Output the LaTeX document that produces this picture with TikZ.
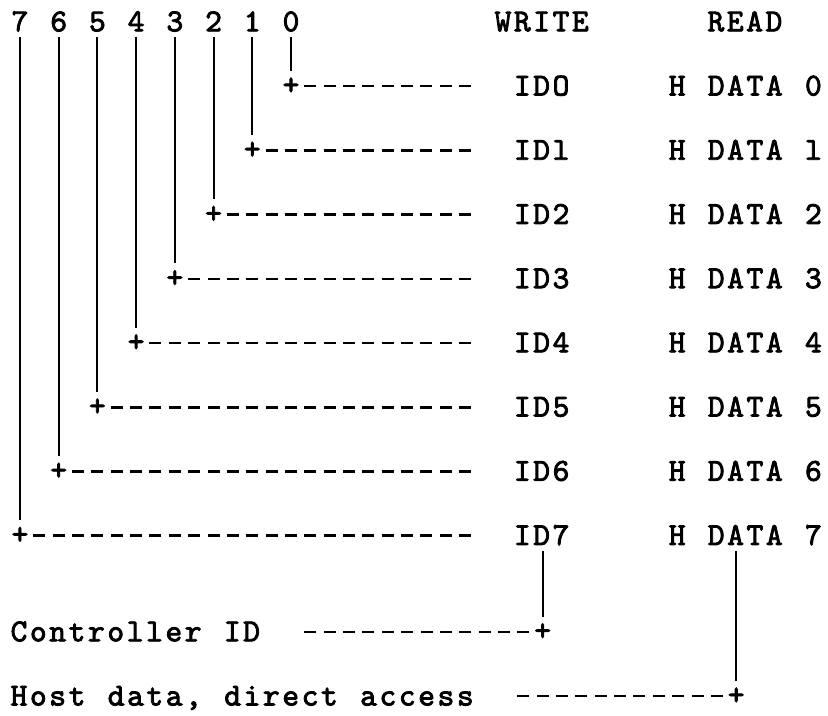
\documentclass[tikz,border=0pt]{standalone}
\usepackage{fontspec}
\newfontfamily\typewriter[FakeBold=2.5]{lmmono10-regular.otf}
\newfontfamily\typewriterwide[FakeBold=2.5, LetterSpace=8.0, WordSpace=1.152]{lmmono10-regular.otf}
\usepackage{tikz}

\begin{document}
\begin{tikzpicture}[x=14.52pt, y=-24.08pt,
    lbl/.style={font=\typewriter\fontsize{24}{29}\selectfont, inner sep=0pt, anchor=base},
    txt/.style={font=\typewriterwide\fontsize{24}{29}\selectfont, inner sep=0pt, anchor=base west},
    corner/.style={lbl, anchor=center},
    wire/.style={line width=1.4pt, shorten <=4pt, shorten >=5pt},
    dashwire/.style={line width=1.9pt, dash pattern=on 9pt off 5.52pt,
        shorten <=10pt, shorten >=30.5pt}]

    \useasboundingbox (-1.033,-0.685) rectangle (41.74,21.59);

    % ============================================================
    % BIT NUMBERS AND HEADINGS
    % ============================================================
    \node[lbl] (b7) at (0,0.29) {7};
    \node[lbl] (b6) at (2,0.29) {6};
    \node[lbl] (b5) at (4,0.29) {5};
    \node[lbl] (b4) at (6,0.29) {4};
    \node[lbl] (b3) at (8,0.29) {3};
    \node[lbl] (b2) at (10,0.29) {2};
    \node[lbl] (b1) at (12,0.29) {1};
    \node[lbl] (b0) at (14,0.29) {0};
    \node[txt] (write) at (24.5,0.29) {WRITE};
    \node[txt] (read) at (35.5,0.29) {READ};

    % ============================================================
    % WRITE / READ SIGNALS
    % ============================================================
    \node[txt] (id0) at (25.5,2.29) {IDO};
    \node[txt] (id1) at (25.5,4.29) {IDl};
    \node[txt] (id2) at (25.5,6.29) {ID2};
    \node[txt] (id3) at (25.5,8.29) {ID3};
    \node[txt] (id4) at (25.5,10.29) {ID4};
    \node[txt] (id5) at (25.5,12.29) {ID5};
    \node[txt] (id6) at (25.5,14.29) {ID6};
    \node[txt] (id7) at (25.5,16.29) {ID7};

    \node[txt] (hd0) at (33.5,2.29) {H DATA 0};
    \node[txt] (hd1) at (33.5,4.29) {H DATA l};
    \node[txt] (hd2) at (33.5,6.29) {H DATA 2};
    \node[txt] (hd3) at (33.5,8.29) {H DATA 3};
    \node[txt] (hd4) at (33.5,10.29) {H DATA 4};
    \node[txt] (hd5) at (33.5,12.29) {H DATA 5};
    \node[txt] (hd6) at (33.5,14.29) {H DATA 6};
    \node[txt] (hd7) at (33.5,16.29) {H DATA 7};

    % ============================================================
    % BIT LINES
    % ============================================================
    \node[corner] (c0) at (14,2) {+};
    \node[corner] (c1) at (12,4) {+};
    \node[corner] (c2) at (10,6) {+};
    \node[corner] (c3) at (8,8) {+};
    \node[corner] (c4) at (6,10) {+};
    \node[corner] (c5) at (4,12) {+};
    \node[corner] (c6) at (2,14) {+};
    \node[corner] (c7) at (0,16) {+};

    \draw[wire] (b0.south) -- (c0.north);
    \draw[wire] (b1.south) -- (c1.north);
    \draw[wire] (b2.south) -- (c2.north);
    \draw[wire] (b3.south) -- (c3.north);
    \draw[wire] (b4.south) -- (c4.north);
    \draw[wire] (b5.south) -- (c5.north);
    \draw[wire] (b6.south) -- (c6.north);
    \draw[wire] (b7.south) -- (c7.north);

    \draw[dashwire] (c0.center) -- (c0.center -| id0.west);
    \draw[dashwire] (c1.center) -- (c1.center -| id1.west);
    \draw[dashwire] (c2.center) -- (c2.center -| id2.west);
    \draw[dashwire] (c3.center) -- (c3.center -| id3.west);
    \draw[dashwire] (c4.center) -- (c4.center -| id4.west);
    \draw[dashwire] (c5.center) -- (c5.center -| id5.west);
    \draw[dashwire] (c6.center) -- (c6.center -| id6.west);
    \draw[dashwire] (c7.center) -- (c7.center -| id7.west);

    % ============================================================
    % CONTROLLER ID / HOST DATA
    % ============================================================
    \node[txt] (ctl) at (-0.5,19.29) {Controller ID};
    \node[corner] (cc) at (27,19) {+};
    \coordinate (ctlgap) at (14.5,19);
    \draw[wire] (cc |- id7.south) -- (cc.north);
    \draw[dashwire, shorten >=0pt] (cc.center) -- (ctlgap);

    \node[txt] (host) at (-0.5,21.29) {Host data, direct access};
    \node[corner] (hc) at (37,21) {+};
    \coordinate (hostgap) at (25.5,21);
    \draw[wire] (hc |- hd7.south) -- (hc.north);
    \draw[dashwire, shorten >=0pt] (hc.center) -- (hostgap);

\end{tikzpicture}
\end{document}
